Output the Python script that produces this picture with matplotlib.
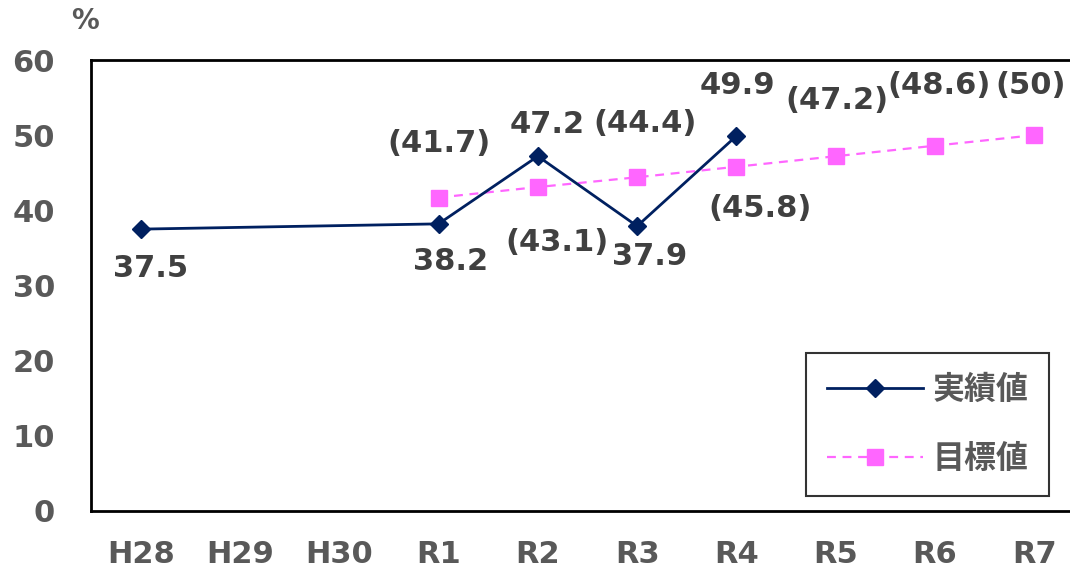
import matplotlib
matplotlib.use("Agg")
from matplotlib import pyplot as plt

plt.rcParams['font.family'] = ['DejaVu Sans', 'Noto Sans CJK JP']

# データ
years = ['H28', 'H29', 'H30', 'R1', 'R2', 'R3', 'R4', 'R5', 'R6', 'R7']
jisseki_idx = [0, 3, 4, 5, 6]
jisseki = [37.5, 38.2, 47.2, 37.9, 49.9]
mokuhyo_idx = [3, 4, 5, 6, 7, 8, 9]
mokuhyo = [41.7, 43.1, 44.4, 45.8, 47.2, 48.6, 50]
mokuhyo_txt = ['(41.7)', '(43.1)', '(44.4)', '(45.8)', '(47.2)', '(48.6)', '(50)']

gray = '#595959'
fs = 22
fig = plt.figure(figsize=(10.7, 5.72), dpi=100)
# 右端は画像外まで伸ばす
ax = fig.add_axes([91 / 1070, 1 - 511 / 572, 993 / 1070, 451 / 572])

ax.plot(mokuhyo_idx, mokuhyo, color='#FF66FF', ls=(0, (4, 3)), lw=1.6,
        marker='s', ms=12, label='目標値', zorder=2)
ax.plot(jisseki_idx, jisseki, color='#002060', lw=2, marker='D', ms=9,
        label='実績値', zorder=3)

# ラベル位置（オフセット, pt）
j_off = [(7, -28), (9, -27), (7, 23), (9, -22), (1, 36)]
for x, y, o in zip(jisseki_idx, jisseki, j_off):
    ax.annotate(f'{y}', (x, y), xytext=o, textcoords='offset points',
                ha='center', va='center', fontsize=fs, fontweight='bold',
                color='#404040')
m_off = [(0, 39), (14, -40), (6, 39), (17, -30), (1, 40), (3, 43), (-3, 36)]
for x, y, t, o in zip(mokuhyo_idx, mokuhyo, mokuhyo_txt, m_off):
    ax.annotate(t, (x, y), xytext=o, textcoords='offset points',
                ha='center', va='center', fontsize=fs, fontweight='bold',
                color='#404040')

ax.set_xlim(-0.5, 9.5)
ax.set_ylim(0, 60)
ax.set_xticks(range(len(years)))
ax.set_xticklabels(years)
ax.set_yticks(range(0, 61, 10))
ax.tick_params(length=0, labelsize=fs, labelcolor=gray, pad=21)
ax.tick_params(axis='y', pad=26)
for lab in ax.get_xticklabels() + ax.get_yticklabels():
    lab.set_fontweight('bold')
for s in ax.spines.values():
    s.set_linewidth(2)

fig.text(85 / 1070, 1 - 21 / 572, '%', fontsize=20, fontweight='bold',
         color=gray, ha='center', va='center')

h, l = ax.get_legend_handles_labels()
leg = ax.legend(h[::-1], l[::-1], loc='upper left',
                bbox_to_anchor=((806 - 91) / 993, (511 - 353) / 451),
                borderaxespad=0, frameon=True, fancybox=False, edgecolor='black',
                prop={'family': ['Noto Sans CJK JP'], 'weight': 'bold', 'size': 23},
                labelspacing=1.18, handlelength=3.0, handletextpad=0.3,
                borderpad=0.65)
leg.get_frame().set_linewidth(1.5)
for t in leg.get_texts():
    t.set_color(gray)

plt.savefig('out.png', dpi=100)
